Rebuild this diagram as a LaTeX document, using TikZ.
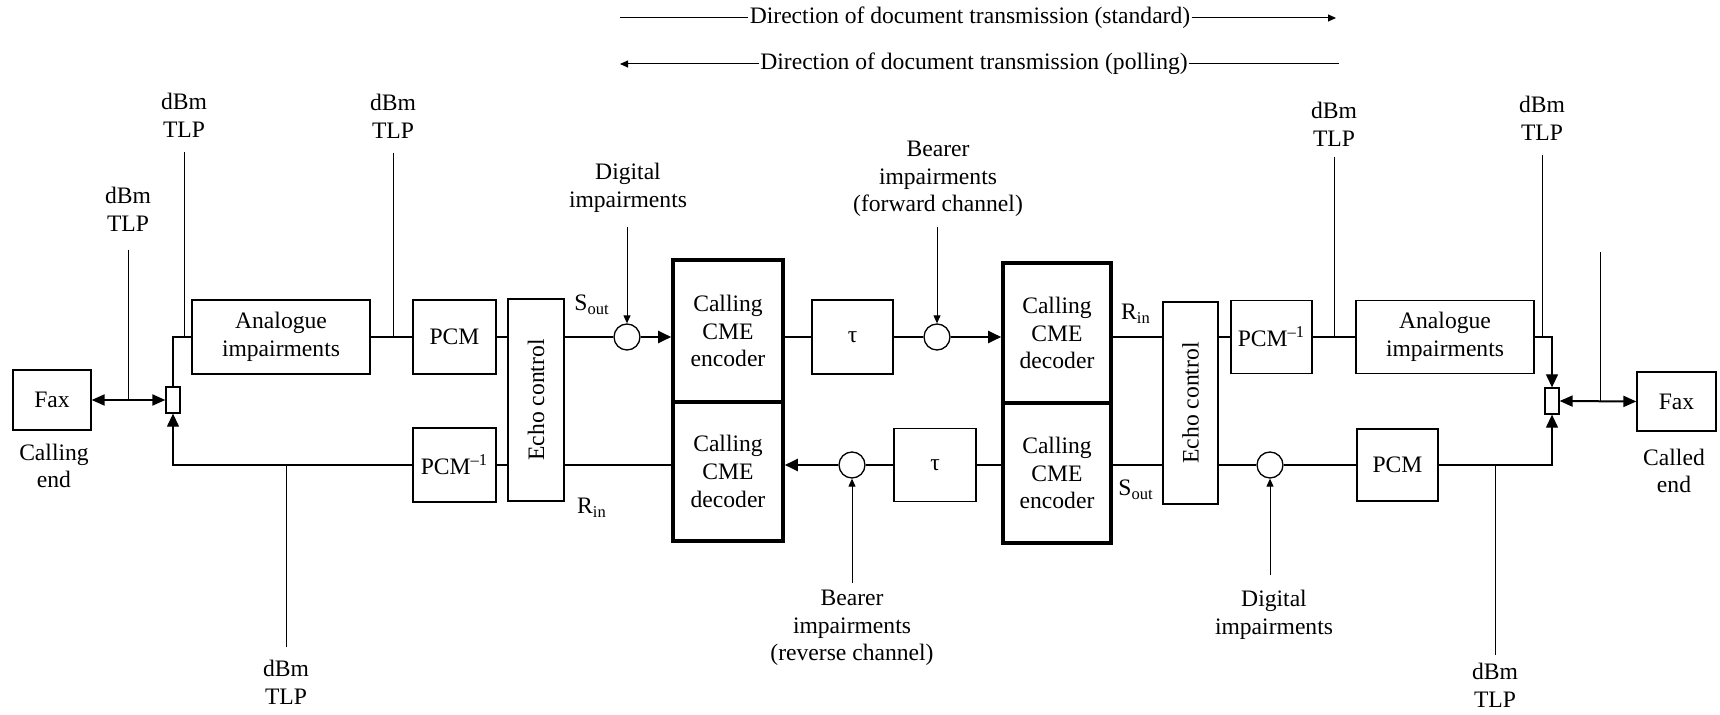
\documentclass[tikz,border=0pt]{standalone}
\usepackage{graphicx}
\usepackage{fontspec}
\setmainfont{Liberation Serif}
\usetikzlibrary{arrows.meta,calc}
\begin{document}
\begin{tikzpicture}[x=0.5pt,y=-0.5pt,
  every node/.style={font=\fontsize{11.8}{13.85}\selectfont, inner sep=1pt},
  blk/.style={draw, line width=0.65pt, align=center, inner sep=2pt},
  cmebox/.style={draw, line width=1.8pt, align=center, inner sep=2pt},
  junc/.style={draw, line width=0.65pt, minimum width=7pt, minimum height=13pt, inner sep=0pt},
  sum/.style={draw, circle, line width=0.65pt, minimum size=13pt, inner sep=0pt},
  lab/.style={align=center},
  sig/.style={line width=1pt},
  wire/.style={line width=0.6pt},
  tlp/.style={line width=0.5pt},
  arr/.style={-{Triangle[length=6.5pt,width=6pt]}},
  darr/.style={{Triangle[length=6.5pt,width=5.5pt]}-{Triangle[length=6.5pt,width=5.5pt]}},
  sarr/.style={-{Triangle[length=4pt,width=3.5pt]}},
]
\useasboundingbox (0,0) rectangle (1720,715);

% direction arrows
\node[inner sep=0.5pt] (dir1) at (970,18) {Direction of document transmission (standard)};
\coordinate (s1a) at (620,18); \coordinate (s1b) at (1336,18);
\draw[tlp] (s1a) -- (dir1.west);
\draw[tlp,sarr] (dir1.east) -- (s1b);
\node[inner sep=0.5pt] (dir2) at (974,64) {Direction of document transmission (polling)};
\coordinate (s2a) at (620,64); \coordinate (s2b) at (1339,64);
\draw[tlp,sarr] (dir2.west) -- (s2a);
\draw[tlp] (dir2.east) -- (s2b);

% left side
\node[blk, minimum width=39pt, minimum height=30pt] (faxL) at (52,400) {Fax};
\node[lab] (callingL) at (54,466) {Calling\\end};
\node[junc] (jL) at (173,400) {};
\node[blk, minimum width=89pt, minimum height=37pt] (anaL) at (281,337) {Analogue\\impairments};
\node[blk, minimum width=41.5pt, minimum height=37pt] (pcmL) at (454.5,337) {PCM};
\node[blk, minimum width=28pt, minimum height=101pt] (echoL) at (536,400) {\rotatebox{90}{Echo control}};
\node[blk, minimum width=41.5pt, minimum height=37pt] (pcmiL) at (454.5,465) {PCM\textsuperscript{\textendash1}};
\node[sum] (cL) at (627,337) {};
\node[cmebox, minimum width=55pt, minimum height=71pt] (encL) at (728,331) {Calling\\CME\\encoder};
\node[cmebox, minimum width=55pt, minimum height=69.5pt] (decL) at (728,471.5) {Calling\\CME\\decoder};

% middle
\node[blk, minimum width=40.5pt, minimum height=37pt] (tauT) at (852.5,337) {τ};
\node[sum] (cF) at (937,337) {};
\node[blk, minimum width=41pt, minimum height=36.5pt] (tauB) at (935,465) {τ};
\node[sum] (cRev) at (852,465) {};
\node[cmebox, minimum width=54pt, minimum height=70pt] (decR) at (1057,333) {Calling\\CME\\decoder};
\node[cmebox, minimum width=54pt, minimum height=70pt] (encR) at (1057,473) {Calling\\CME\\encoder};

% right side
\node[blk, minimum width=27.5pt, minimum height=101pt] (echoR) at (1190.5,403) {\rotatebox{90}{Echo control}};
\node[blk, minimum width=40.5pt, minimum height=36.5pt] (pcmiR) at (1271.5,337) {PCM\textsuperscript{\textendash1}};
\node[blk, minimum width=89pt, minimum height=36.5pt] (anaR) at (1445,337) {Analogue\\impairments};
\node[junc] (jR) at (1552,401) {};
\node[blk, minimum width=39.5pt, minimum height=29.5pt] (faxR) at (1676.5,401.5) {Fax};
\node[lab] (calledR) at (1674,471) {Called\\end};
\node[blk, minimum width=40.5pt, minimum height=36pt] (pcmR) at (1397.5,465) {PCM};
\node[sum] (cD) at (1270,465) {};

% signal labels
\node (soL) at (592,305) {S\textsubscript{out}};
\node (riL) at (592,508) {R\textsubscript{in}};
\node (riR) at (1136,314) {R\textsubscript{in}};
\node (soR) at (1136,490) {S\textsubscript{out}};

% impairment labels
\node[lab] (digL) at (628,188) {Digital\\impairments};
\node[lab] (bearF) at (938,179) {Bearer\\impairments\\(forward channel)};
\node[lab] (bearR) at (852,628) {Bearer\\impairments\\(reverse channel)};
\node[lab] (digR) at (1274,615) {Digital\\impairments};

% dBm TLP labels
\node[lab] (tl1) at (128,209) {dBm\\TLP};
\node[lab] (tl2) at (184,115) {dBm\\TLP};
\node[lab] (tl3) at (393,116) {dBm\\TLP};
\node[lab] (tl4) at (286,682) {dBm\\TLP};
\node[lab] (tl5) at (1334,124) {dBm\\TLP};
\node[lab] (tl6) at (1542,118) {dBm\\TLP};
\node[lab] (tl8) at (1495,685) {dBm\\TLP};

% connectors left
\draw[sig,darr] (faxL.east) -- (jL.west);
\draw[wire] (jL.north) |- (anaL.west);
\draw[sig] (anaL.east) -- (pcmL.west);
\draw[sig] (pcmL.east) -- (pcmL.east -| echoL.west);
\draw[sig] (cL.west -| echoL.east) -- (cL.west);
\draw[sig,arr] (cL.east) -- (cL.east -| encL.west);
\draw[wire] (pcmiL.east -| decL.west) -- (pcmiL.east -| echoL.east);
\draw[wire] (pcmiL.east -| echoL.west) -- (pcmiL.east);
\draw[wire,arr] (pcmiL.west) -| (jL.south);

% connectors middle
\draw[sig] (tauT.west -| encL.east) -- (tauT.west);
\draw[sig] (tauT.east) -- (cF.west);
\draw[sig,arr] (cF.east) -- (cF.east -| decR.west);
\draw[sig] (tauB.east) -- (tauB.east -| encR.west);
\draw[sig] (tauB.west) -- (cRev.east);
\draw[sig,arr] (cRev.west) -- (cRev.west -| decL.east);

% connectors right
\draw[sig] (pcmiR.west -| decR.east) -- (pcmiR.west -| echoR.west);
\draw[sig] (pcmiR.west -| echoR.east) -- (pcmiR.west);
\draw[sig] (pcmiR.east) -- (anaR.west);
\draw[wire,arr] (anaR.east) -| (jR.north);
\draw[sig,darr] (jR.east) -- (faxR.west);
\draw[wire,arr] (pcmR.east) -| (jR.south);
\draw[wire] (pcmR.west) -- (cD.east);
\draw[wire] (cD.west) -- (cD.west -| echoR.east);
\draw[wire] (cD.west -| echoR.west) -- (cD.west -| encR.east);

% impairment arrows
\coordinate (d1) at (627,227);
\draw[tlp,sarr] (d1) -- (cL.north);
\coordinate (b1) at (937,227);
\draw[tlp,sarr] (b1) -- (cF.north);
\coordinate (b2) at (852,583);
\draw[tlp,sarr] (b2) -- (cRev.south);
\coordinate (d2) at (1270,575);
\draw[tlp,sarr] (d2) -- (cD.south);

% TLP lines
\coordinate (t1) at (128,250); \draw[tlp] (t1) -- (t1 |- jL.west);
\coordinate (t2) at (184,152); \draw[tlp] (t2) -- (t2 |- anaL.west);
\coordinate (t3) at (393,153); \draw[tlp] (t3) -- (t3 |- anaL.east);
\coordinate (t4) at (286,647); \draw[tlp] (t4) -- (t4 |- pcmiL.west);
\coordinate (t5) at (1334,157); \draw[tlp] (t5) -- (t5 |- pcmiR.east);
\coordinate (t6) at (1542,155); \draw[tlp] (t6) -- (t6 |- anaR.east);
\coordinate (t7) at (1600,252); \draw[tlp] (t7) -- (t7 |- jR.east);
\coordinate (t8) at (1495,655); \draw[tlp] (t8) -- (t8 |- pcmR.east);
\end{tikzpicture}
\end{document}
